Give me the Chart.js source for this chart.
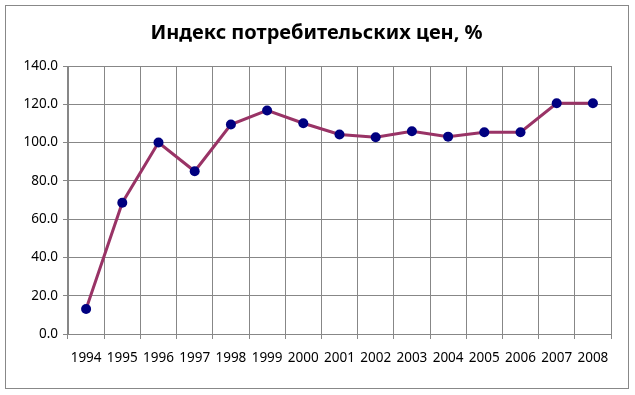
<!DOCTYPE html>
<html lang="ru">
  <head>
    <meta charset="UTF-8" />
    <title>Индекс потребительских цен</title>
    <script src="https://cdn.jsdelivr.net/npm/chart.js"></script>
    <style>
      html,
      body {
        margin: 0;
        padding: 0;
        background: white;
      }
      .chart-box {
        width: 635px;
        height: 395px;
      }
    </style>
  </head>
  <body>
    <div class="chart-box">
      <canvas id="cpiChart" width="635" height="395"></canvas>
    </div>
    <script>
      const years = ["1994", "1995", "1996", "1997", "1998", "1999", "2000", "2001",
        "2002", "2003", "2004", "2005", "2006", "2007", "2008"];
      const cpiValues = [13.1, 68.6, 100.0, 85.0, 109.4, 116.8, 110.1, 104.2,
        102.8, 105.9, 103.1, 105.4, 105.4, 120.5, 120.5];
      const yTicks = [0, 20, 40, 60, 80, 100, 120, 140];
      const chartTitle = "Индекс потребительских цен, %";

      const gridGray = "#878787";

      // outer frame + title centred on the whole frame (not just the plot)
      const framePlugin = {
        id: "frame",
        afterDraw(chart) {
          const ctx = chart.ctx;
          ctx.save();
          ctx.strokeStyle = "#888888";
          ctx.lineWidth = 1;
          ctx.strokeRect(5.5, 5.5, 623, 383);
          ctx.fillStyle = "#000";
          ctx.font = "bold 20px 'Noto Sans'";
          ctx.textAlign = "center";
          ctx.textBaseline = "middle";
          ctx.fillText(chartTitle, 316.5, 33);
          ctx.restore();
        },
      };

      const ctx = document.getElementById("cpiChart").getContext("2d");
      new Chart(ctx, {
        type: "line",
        data: {
          labels: years,
          datasets: [
            {
              data: cpiValues,
              borderColor: "#993366",
              borderWidth: 3,
              pointBackgroundColor: "#000080",
              pointBorderColor: "#000080",
              pointRadius: 5,
              pointBorderWidth: 0,
              tension: 0,
            },
          ],
        },
        options: {
          responsive: false,
          animation: false,
          layout: { padding: { left: 0, right: 24, top: 66, bottom: 0 } },
          plugins: {
            legend: { display: false },
            tooltip: { enabled: false },
            title: { display: false },
          },
          scales: {
            x: {
              offset: true,
              grid: {
                offset: true,
                color: gridGray,
                tickLength: 5,
              },
              border: { color: gridGray },
              ticks: {
                color: "#000",
                padding: 11,
                maxRotation: 0,
                autoSkip: false,
                font: { family: "Noto Sans", size: 13.5 },
              },
              afterFit(scale) {
                scale.height = 61;
              },
            },
            y: {
              min: 0,
              max: 140,
              afterBuildTicks(scale) {
                scale.ticks = yTicks.map((v) => ({ value: v }));
              },
              grid: { color: gridGray, tickLength: 5 },
              border: { color: gridGray },
              ticks: {
                color: "#000",
                padding: 5,
                font: { family: "Noto Sans", size: 13.5 },
                callback: (v) => v.toFixed(1),
              },
              afterFit(scale) {
                scale.width = 68;
              },
            },
          },
        },
        plugins: [framePlugin],
      });
    </script>
  </body>
</html>
